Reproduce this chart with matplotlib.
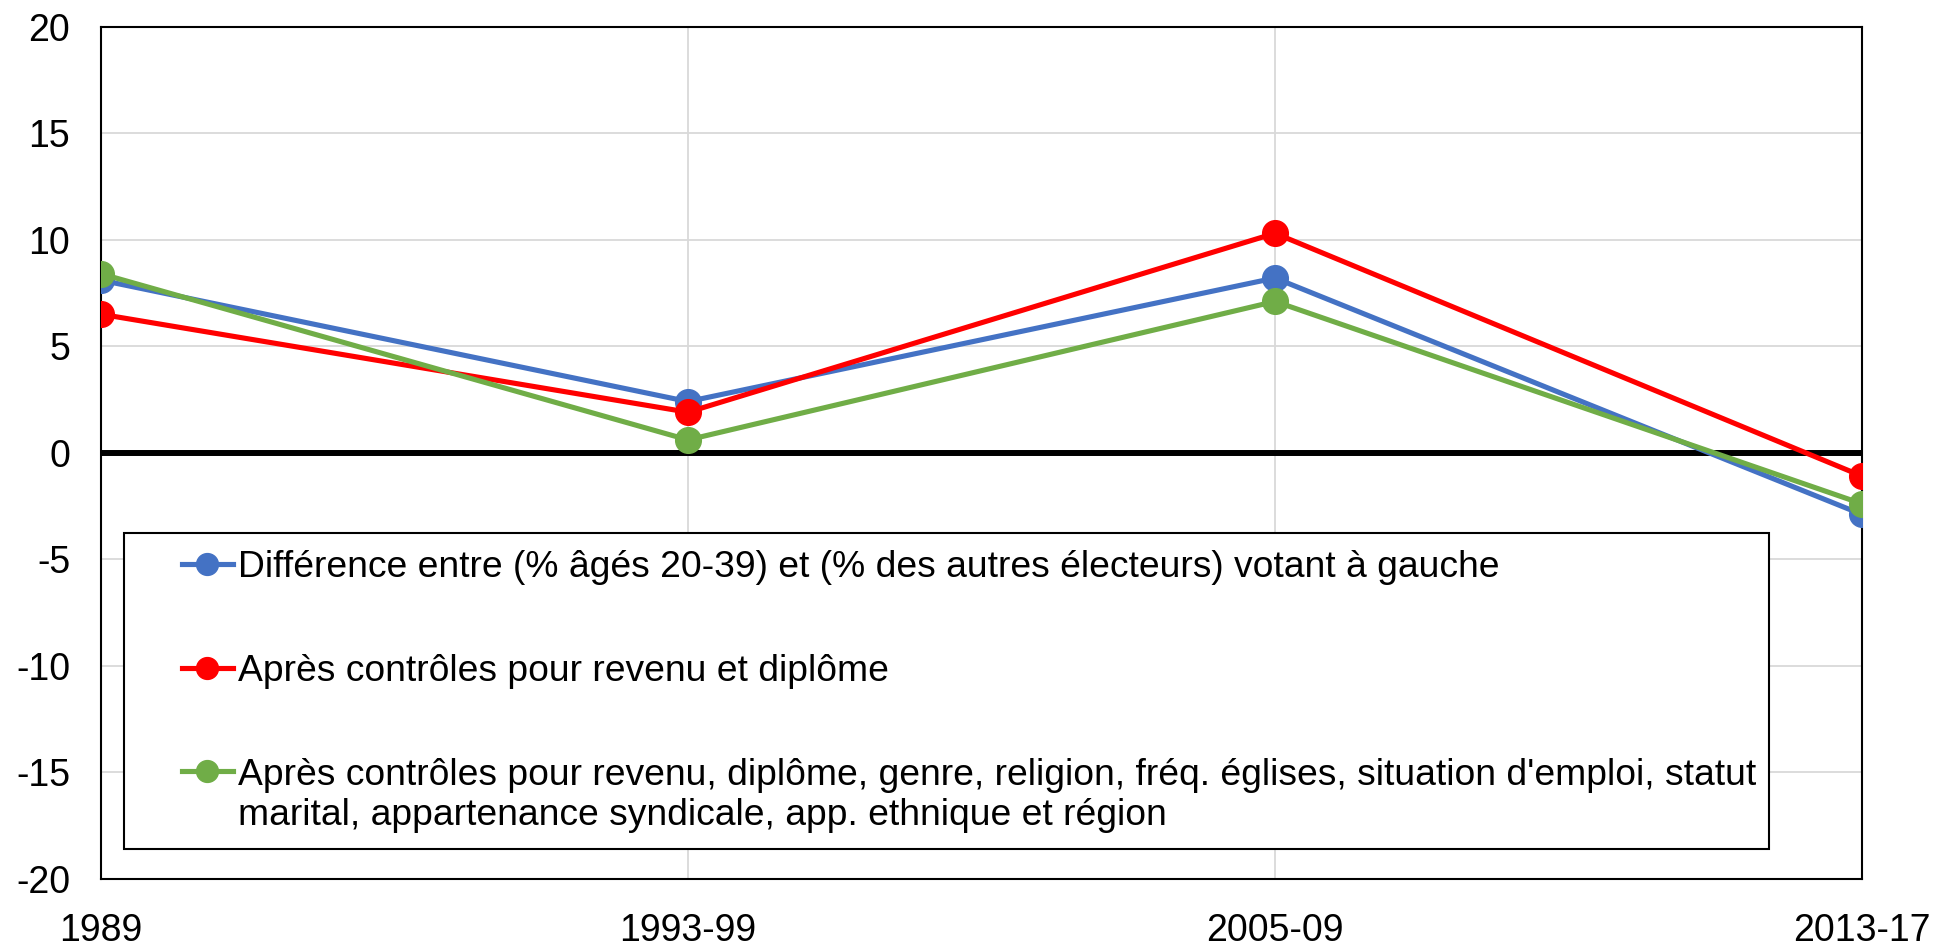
import matplotlib
matplotlib.use("Agg")
import matplotlib.pyplot as plt
from matplotlib.patches import Rectangle

plt.rcParams['font.family'] = ['Liberation Sans', 'DejaVu Sans']
plt.rcParams['axes.unicode_minus'] = False

# Données
periodes = ["1989", "1993-99", "2005-09", "2013-17"]
brut = [8.1, 2.4, 8.2, -2.9]
revenu_diplome = [6.5, 1.9, 10.3, -1.1]
tous_controles = [8.4, 0.6, 7.1, -2.4]

noms = [
    "Différence entre (% âgés 20-39) et (% des autres électeurs) votant à gauche",
    "Après contrôles pour revenu et diplôme",
    "Après contrôles pour revenu, diplôme, genre, religion, fréq. églises, situation d'emploi, statut",
]
suite_nom3 = "marital, appartenance syndicale, app. ethnique et région"
couleurs = ["#4472C4", "#FF0000", "#70AD47"]

fig = plt.figure(figsize=(19.37, 9.49), dpi=100)
ax = fig.add_axes([0.0521, 0.0741, 0.9092, 0.8978])

x = list(range(len(periodes)))
ax.axhline(0, color="black", lw=4.3, zorder=1.5)
for serie, nom, c in zip([brut, revenu_diplome, tous_controles], noms, couleurs):
    ax.plot(x, serie, color=c, lw=3.7, marker="o", ms=18.5, label=nom, zorder=3)

ax.set_xlim(0, 3)
ax.set_ylim(-20, 20)
ax.set_yticks(range(-20, 21, 5))
ax.set_xticks(x)
ax.set_xticklabels(periodes)
ax.grid(True, color="#d9d9d9", lw=1.3, zorder=0)
ax.set_axisbelow(True)
for s in ax.spines.values():
    s.set_linewidth(1.5)
ax.tick_params(axis="both", length=0, labelsize=27)
ax.tick_params(axis="x", pad=25)
ax.tick_params(axis="y", pad=22)

# cadre de la légende
ax.add_patch(Rectangle((0.013, 0.035), 0.934, 0.371, transform=ax.transAxes,
                       facecolor="white", edgecolor="black", lw=1.5, zorder=4))
leg = ax.legend(loc="upper left", bbox_to_anchor=(0.046, 0.386), frameon=False,
                fontsize=26.8, handlelength=1.36, handletextpad=0.15,
                labelspacing=1.85, markerscale=0.85, borderaxespad=0, borderpad=0)
leg.set_zorder(5)

# deuxième ligne du dernier libellé, sous la première
t3 = leg.get_texts()[2]
ax.annotate(suite_nom3, xy=(0, 0), xycoords=t3, xytext=(0, -4), textcoords="offset points",
            ha="left", va="top", fontsize=26.8, zorder=6)

fig.savefig("out.png", dpi=100)
